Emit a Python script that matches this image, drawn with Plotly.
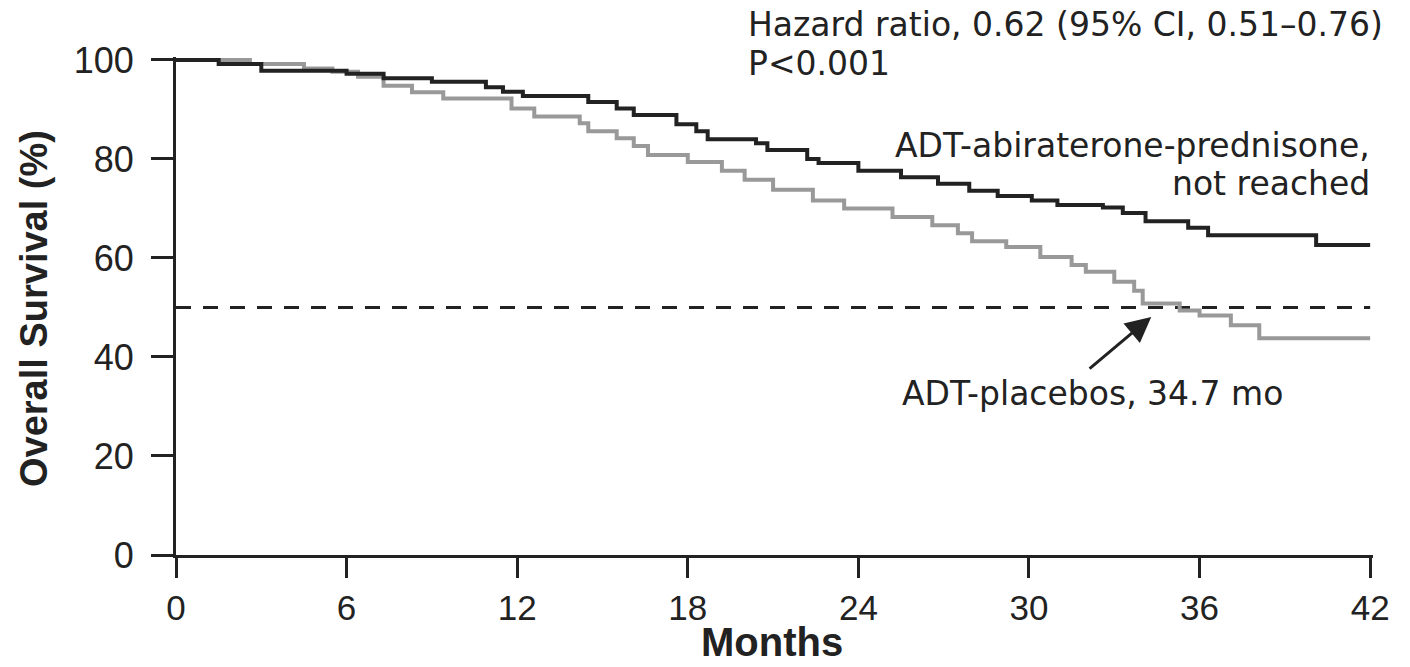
import plotly.graph_objects as go

# ---- data ----
abi_months = [0, 1.5, 3.0, 6.0, 7.3, 9.0, 10.9, 11.5, 12.2, 14.5, 15.5, 16.1, 17.6, 18.3, 18.7,
              20.4, 20.8, 22.2, 22.6, 24.0, 25.5, 26.8, 27.9, 28.9, 30.1, 31.0, 32.6, 33.3,
              34.1, 35.6, 36.3, 40.1, 42.0]
abi_surv = [100, 99.2, 97.8, 97.2, 96.3, 95.6, 94.5, 93.6, 92.7, 91.5, 90.2, 88.9, 87.0, 85.6, 84.0,
            83.2, 81.8, 80.0, 79.2, 77.6, 76.3, 75.0, 73.6, 72.5, 71.6, 70.7, 70.2, 69.1,
            67.4, 66.1, 64.6, 62.6, 62.6]

pla_months = [0, 2.6, 4.5, 5.5, 6.4, 7.3, 8.3, 9.4, 11.8, 12.6, 14.2, 14.5, 15.5, 16.1, 16.6,
              18.0, 19.2, 20.0, 21.0, 22.4, 23.5, 25.2, 26.6, 27.5, 28.0, 29.2, 30.4, 31.5,
              32.0, 33.0, 33.7, 34.0, 35.3, 36.0, 37.1, 38.1, 42.0]
pla_surv = [100, 99.2, 98.3, 97.6, 96.6, 94.8, 93.5, 92.2, 90.2, 88.6, 87.2, 85.6, 84.2, 82.6, 80.8,
            79.4, 77.6, 75.8, 73.8, 71.6, 70.0, 68.3, 66.6, 65.0, 63.4, 62.2, 60.2, 58.6,
            57.2, 55.2, 53.4, 50.8, 49.4, 48.4, 46.4, 43.8, 43.8]

x_ticks = [0, 6, 12, 18, 24, 30, 36, 42]
y_ticks = [0, 20, 40, 60, 80, 100]
median_level = 50
arrow_tail = (32.08, 37.4)
arrow_head = (34.3, 48.1)

hr_text = "Hazard ratio, 0.62 (95% CI, 0.51–0.76)"
p_text = "P<0.001"
abi_label = ["ADT-abiraterone-prednisone,", "not reached"]
pla_label = "ADT-placebos, 34.7 mo"

INK = "#222222"
GRAY = "#999999"
ANN_FONT = dict(family="DejaVu Sans", size=33, color=INK)

# ---- geometry ----
W, H = 1410, 667
L, R, T, B = 176, 37, 57, 112
PW, PH = W - L - R, H - T - B


def px(xpix):
    return (xpix - L) / PW


def py(ypix):
    return (H - B - ypix) / PH


fig = go.Figure()

fig.add_trace(go.Scatter(x=[0, 42], y=[median_level, median_level], mode="lines",
                         line=dict(color=INK, width=3, dash="15px,12px"), hoverinfo="skip",
                         showlegend=False))
fig.add_trace(go.Scatter(x=pla_months, y=pla_surv, mode="lines", line_shape="hv",
                         line=dict(color=GRAY, width=4), name="ADT-placebos", showlegend=False))
fig.add_trace(go.Scatter(x=abi_months, y=abi_surv, mode="lines", line_shape="hv",
                         line=dict(color=INK, width=4), name="ADT-abiraterone-prednisone",
                         showlegend=False))

annotations = [
    dict(text=hr_text, xref="paper", yref="paper", x=px(746), y=py(24), xanchor="left",
         yanchor="middle", showarrow=False, font=ANN_FONT),
    dict(text=p_text, xref="paper", yref="paper", x=px(746), y=py(64), xanchor="left",
         yanchor="middle", showarrow=False, font=ANN_FONT),
    dict(text=abi_label[0], xref="paper", yref="paper", x=px(1372), y=py(145), xanchor="right",
         yanchor="middle", showarrow=False, font=ANN_FONT),
    dict(text=abi_label[1], xref="paper", yref="paper", x=px(1372), y=py(183), xanchor="right",
         yanchor="middle", showarrow=False, font=ANN_FONT),
    dict(text=pla_label, xref="paper", yref="paper", x=px(900), y=py(393), xanchor="left",
         yanchor="middle", showarrow=False, font=ANN_FONT),
    # arrow
    dict(x=arrow_head[0], y=arrow_head[1], ax=arrow_tail[0], ay=arrow_tail[1], xref="x", yref="y",
         axref="x", ayref="y", text="", showarrow=True, arrowhead=2, arrowsize=1.7,
         arrowwidth=3, arrowcolor=INK),
    # axis titles
    dict(text="<b>Overall Survival (%)</b>", xref="paper", yref="paper", x=px(34), y=py(309),
         xanchor="center", yanchor="middle", textangle=-90, showarrow=False,
         font=dict(family="Liberation Sans", size=38, color=INK)),
    dict(text="<b>Months</b>", xref="paper", yref="paper", x=px(772), y=py(642),
         xanchor="center", yanchor="middle", showarrow=False,
         font=dict(family="Liberation Sans", size=40, color=INK)),
]

fig.update_layout(
    width=W, height=H,
    margin=dict(l=L, r=R, t=T, b=B, pad=0),
    paper_bgcolor="white", plot_bgcolor="white",
    annotations=annotations,
    showlegend=False,
)
fig.update_xaxes(range=[0, 42.1], tickmode="array", tickvals=x_ticks,
                 ticktext=[str(v) for v in x_ticks], showgrid=False, zeroline=False,
                 showline=True, linecolor=INK, linewidth=3, ticks="outside", ticklen=20,
                 tickwidth=3, tickcolor=INK, ticklabelstandoff=0,
                 tickfont=dict(family="Liberation Sans", size=35, color=INK))
fig.update_yaxes(range=[0, 100.6], tickmode="array", tickvals=y_ticks,
                 ticktext=[str(v) for v in y_ticks], showgrid=False, zeroline=False,
                 showline=True, linecolor=INK, linewidth=3, ticks="outside", ticklen=22,
                 tickwidth=3, tickcolor=INK, ticklabelstandoff=10,
                 tickfont=dict(family="Liberation Sans", size=36, color=INK))

fig.write_html("out.html")
